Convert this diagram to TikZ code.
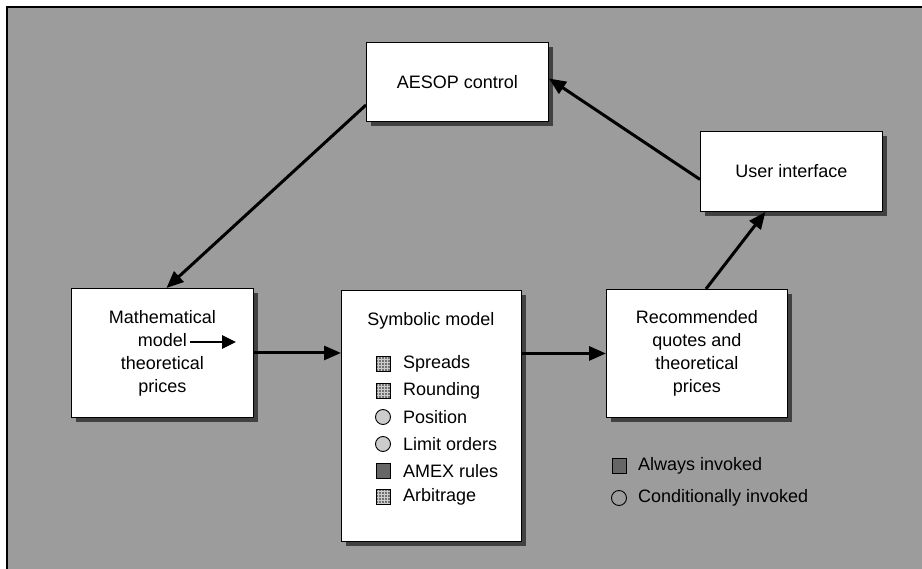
\documentclass[tikz,border=0pt]{standalone}
\usepackage{fontspec}
\setmainfont{Liberation Sans}
\usetikzlibrary{arrows.meta,shadows,calc,patterns}
\definecolor{bg}{RGB}{156,156,156}
\definecolor{shade}{RGB}{65,65,65}
\begin{document}
\begin{tikzpicture}[x=1pt,y=-1pt,
  txt/.style={font=\fontsize{18}{23}\selectfont, inner sep=0pt},
  box/.style={draw=black, line width=0.9pt, fill=white, anchor=north west,
    inner sep=0pt, align=center, font=\fontsize{18}{23}\selectfont,
    drop shadow={shadow xshift=4.5pt, shadow yshift=-4.5pt, fill=shade, opacity=1}},
  link/.style={line width=3pt, -{Triangle[length=17pt,width=14pt]}},
  sqicon/.style={draw=black, line width=0.7pt, minimum width=14pt, minimum height=15pt, inner sep=0pt,
    preaction={fill=black!55}, pattern=grid, pattern color=black!20},
  darkicon/.style={draw=black, line width=0.7pt, fill=black!60, minimum width=14pt, minimum height=15pt, inner sep=0pt},
  circicon/.style={circle, draw=black, line width=0.9pt, fill=black!20, minimum size=15pt, inner sep=0pt}]
\useasboundingbox (0,0) rectangle (922,569);
\fill[white] (0,0) rectangle (922,569);
\fill[bg] (7,7) rectangle (922,569);
\draw[line width=1.2pt] (7,569) -- (7,7) -- (922,7);

\node[box, minimum width=182pt, minimum height=79pt] (aesop) at (366,42) {AESOP control};
\node[box, minimum width=182pt, minimum height=80pt] (ui) at (700,131) {User interface};
\node[box, minimum width=182pt, minimum height=129pt] (math) at (71,288) {Mathematical\\model\\theoretical\\prices};
\node[box, minimum width=180pt, minimum height=251pt] (sym) at (341,290) {};
\node[box, minimum width=181pt, minimum height=128pt] (rec) at (606,289) {Recommended\\quotes and\\theoretical\\prices};

% small arrow inside the math box
\coordinate (ma) at (190,342);
\coordinate (mb) at (236,342);
\draw[line width=2.6pt, -{Triangle[length=14pt,width=13pt]}] (ma) -- (mb);

% symbolic model content
\node[txt] (symtitle) at (431,321) {Symbolic model};
\node[sqicon] (i1) at (383,364) {};
\node[sqicon] (i2) at (383,391) {};
\node[circicon] (i3) at (383,417) {};
\node[circicon] (i4) at (383,444) {};
\node[darkicon] (i5) at (383,471) {};
\node[sqicon] (i6) at (383,497) {};
\node[txt, anchor=west] (t1) at (403,364) {Spreads};
\node[txt, anchor=west] (t2) at (403,391) {Rounding};
\node[txt, anchor=west] (t3) at (403,417) {Position};
\node[txt, anchor=west] (t4) at (403,444) {Limit orders};
\node[txt, anchor=west] (t5) at (403,471) {AMEX rules};
\node[txt, anchor=west] (t6) at (403,497) {Arbitrage};

% legend
\node[darkicon] (l1) at (619,466) {};
\node[circicon, fill=none] (l2) at (619,498) {};
\node[txt, anchor=west] (lt1) at (638,466) {Always invoked};
\node[txt, anchor=west] (lt2) at (638,498) {Conditionally invoked};

% connectors
\draw[link] ([yshift=-23pt]aesop.west) -- ([xshift=4pt]math.north);
\draw[link] ([yshift=-8pt]ui.west) -- ([yshift=3.5pt]aesop.east);
\draw[link] ([xshift=9pt]rec.north) -- ([xshift=-26pt]ui.south);
\draw[link] (math.east) -- (math.east -| sym.west);
\draw[link] (rec.west -| sym.east) -- (rec.west);
\end{tikzpicture}
\end{document}
